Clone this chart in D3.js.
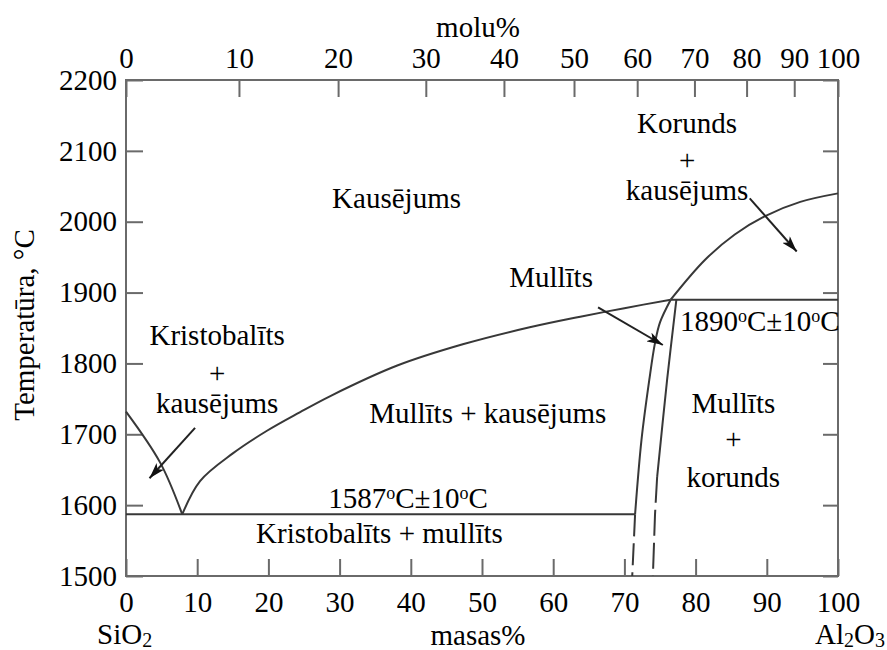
<!DOCTYPE html>
<html>
<head>
<meta charset="utf-8">
<script src="https://cdn.jsdelivr.net/npm/d3@7/dist/d3.min.js"></script>
<style>
  body { margin: 0; background: #fff; }
  svg text { font-family: "Liberation Serif", "Times New Roman", serif; fill: #000; }
</style>
</head>
<body>
<svg id="chart" width="887" height="650"></svg>
<script>
// Tick values
const tempTicks = [1500, 1600, 1700, 1800, 1900, 2000, 2100, 2200];
const massTicks = [0, 10, 20, 30, 40, 50, 60, 70, 80, 90, 100];
const moleTicks = [0, 10, 20, 30, 40, 50, 60, 70, 80, 90, 100];
const molarMass = { SiO2: 60.08, Al2O3: 101.96 };

// Phase boundaries: [mass % Al2O3, temperature °C]
const cristobaliteLiquidus = [[0, 1732], [4.8, 1660], [7.9, 1587]];
const mulliteLiquidus = [[7.9, 1587], [10.4, 1634], [15.0, 1673], [19.8, 1705], [24.4, 1731],
  [28.7, 1754], [38.1, 1797], [47.3, 1827], [56.7, 1851], [63.8, 1866], [70.0, 1878], [76.5, 1890]];
const corundumLiquidus = [[76.5, 1890], [81.3, 1946], [85.5, 1982], [90.0, 2009], [94.7, 2028], [100, 2040]];
const eutecticLine = [[0, 1587], [71.5, 1587]];
const peritecticLine = [[76.5, 1890], [100, 1890]];
const mulliteLeftSolid = [[76.5, 1890], [75.0, 1858], [74.3, 1829], [73.5, 1777], [72.4, 1692], [71.5, 1587]];
const mulliteLeftDashed = [[71.5, 1587], [71.1, 1500]];
const mulliteRightSolid = [[77.3, 1890], [76.0, 1777], [74.6, 1640]];
const mulliteRightDashed = [[74.6, 1640], [74.3, 1587], [74.0, 1500]];

// Pointer arrows: [from, to]
const arrows = [
  [[9.7, 1709], [3.3, 1638]],
  [[66.3, 1879], [75.4, 1826]],
  [[87.6, 2033], [94.2, 1958]]
];

// Region labels: text lines, anchor [mass %, °C] of first baseline, extra line offsets in px
const regionLabels = [
  { lines: ["Kausējums"], at: [38.0, 2019] },
  { lines: ["Korunds", "+", "kausējums"], at: [78.8, 2125], gap: [0, 37, 30] },
  { lines: ["Kristobalīts", "+", "kausējums"], at: [12.8, 1826], gap: [0, 38, 30] },
  { lines: ["Mullīts + kausējums"], at: [50.8, 1716] },
  { lines: ["Kristobalīts + mullīts"], at: [35.6, 1547] },
  { lines: ["Mullīts", "+", "korunds"], at: [85.3, 1730], gap: [0, 36, 38] },
  { lines: ["Mullīts"], at: [59.7, 1908] }
];

const W = 887, H = 650;
const svg = d3.select("#chart");
svg.append("rect").attr("width", W).attr("height", H).attr("fill", "#fff");

const x = d3.scaleLinear().domain([0, 100]).range([126, 838]);
const y = d3.scaleLinear().domain([1500, 2200]).range([576, 80]);

// mole % Al2O3 -> mass % Al2O3
const moleToMass = m => {
  const a = m * molarMass.Al2O3, s = (100 - m) * molarMass.SiO2;
  return 100 * a / (a + s);
};

const FS = 29;
const frameColor = "#6a6a6a";
const lineColor = "#383838";

// Axes (ticks point inward)
const gLeft = svg.append("g").attr("transform", `translate(${x(0)},0)`)
  .call(d3.axisLeft(y).tickValues(tempTicks).tickSizeInner(-17).tickSizeOuter(0).tickPadding(9).tickFormat(d3.format("d")));
const gRight = svg.append("g").attr("transform", `translate(${x(100)},0)`)
  .call(d3.axisRight(y).tickValues(tempTicks).tickSizeInner(-15).tickSizeOuter(0).tickFormat(""));
const gBottom = svg.append("g").attr("transform", `translate(0,${y(1500)})`)
  .call(d3.axisBottom(x).tickValues(massTicks).tickSizeInner(-17).tickSizeOuter(0).tickPadding(15).tickFormat(d3.format("d")));
const gTop = svg.append("g").attr("transform", `translate(0,${y(2200)})`)
  .call(d3.axisTop(x).tickValues(moleTicks.map(moleToMass)).tickSizeInner(-17).tickSizeOuter(0).tickPadding(12)
    .tickFormat((d, i) => moleTicks[i]));

[gLeft, gRight, gBottom, gTop].forEach(g => {
  g.select(".domain").remove();
  g.selectAll(".tick line").attr("stroke", frameColor).attr("stroke-width", 2);
  g.selectAll("text").attr("font-size", FS).attr("font-family", "Liberation Serif").attr("fill", "#000");
});

// Frame
svg.append("rect")
  .attr("x", x(0)).attr("y", y(2200))
  .attr("width", x(100) - x(0)).attr("height", y(1500) - y(2200))
  .attr("fill", "none").attr("stroke", frameColor).attr("stroke-width", 2);

// Phase boundary lines
const line = d3.line().x(d => x(d[0])).y(d => y(d[1]));
const smooth = d3.line().x(d => x(d[0])).y(d => y(d[1])).curve(d3.curveCatmullRom.alpha(0.5));
const drawPath = (data, gen, dash) => svg.append("path")
  .attr("d", gen(data)).attr("fill", "none")
  .attr("stroke", lineColor).attr("stroke-width", 2)
  .attr("stroke-dasharray", dash || null);

drawPath(cristobaliteLiquidus, smooth);
drawPath(mulliteLiquidus, smooth);
drawPath(corundumLiquidus, smooth);
drawPath(eutecticLine, line);
drawPath(peritecticLine, line);
drawPath(mulliteLeftSolid, smooth);
drawPath(mulliteLeftDashed, line, "22,7");
drawPath(mulliteRightSolid, smooth);
drawPath(mulliteRightDashed, line, "26,7");

// Arrow markers
svg.append("defs").append("marker")
  .attr("id", "head").attr("markerUnits", "userSpaceOnUse")
  .attr("viewBox", "0 0 16 10").attr("refX", 16).attr("refY", 5)
  .attr("markerWidth", 16).attr("markerHeight", 10).attr("orient", "auto")
  .append("path").attr("d", "M0,0 L16,5 L0,10 L4,5 Z").attr("fill", "#111");

arrows.forEach(a => {
  svg.append("line")
    .attr("x1", x(a[0][0])).attr("y1", y(a[0][1]))
    .attr("x2", x(a[1][0])).attr("y2", y(a[1][1]))
    .attr("stroke", "#222").attr("stroke-width", 2)
    .attr("marker-end", "url(#head)");
});

// Region labels
regionLabels.forEach(r => {
  const t = svg.append("text").attr("text-anchor", "middle").attr("font-size", FS)
    .attr("x", x(r.at[0])).attr("y", y(r.at[1]));
  r.lines.forEach((s, i) => {
    t.append("tspan").attr("x", x(r.at[0])).attr("dy", i === 0 ? 0 : r.gap[i]).text(s);
  });
});

// Temperature labels with a raised small "o" as the degree mark
function tempLabel(xPos, yPos, parts, anchor) {
  const t = svg.append("text").attr("x", xPos).attr("y", yPos)
    .attr("font-size", FS).attr("text-anchor", anchor);
  let raised = false;
  parts.forEach(p => {
    if (p === "o") {
      t.append("tspan").attr("font-size", 18).attr("dy", -9).text("o");
      raised = true;
    } else {
      t.append("tspan").attr("dy", raised ? 9 : 0).text(p);
      raised = false;
    }
  });
}
tempLabel(x(39.6), y(1596), ["1587", "o", "C±10", "o", "C"], "middle");
tempLabel(x(77.8), y(1846), ["1890", "o", "C±10", "o", "C"], "start");

// Axis titles
svg.append("text").attr("x", 478).attr("y", 37).attr("font-size", FS)
  .attr("text-anchor", "middle").text("molu%");
svg.append("text").attr("x", 478).attr("y", 645).attr("font-size", FS)
  .attr("text-anchor", "middle").text("masas%");
svg.append("text").attr("transform", "translate(34,325) rotate(-90)")
  .attr("font-size", FS).attr("text-anchor", "middle").text("Temperatūra, °C");

// Component names with subscripts
function formula(xPos, yPos, parts, anchor) {
  const t = svg.append("text").attr("x", xPos).attr("y", yPos)
    .attr("font-size", FS).attr("text-anchor", anchor);
  let sub = false;
  parts.forEach(p => {
    const isNum = /^[0-9]$/.test(p);
    t.append("tspan").attr("font-size", isNum ? 20 : FS)
      .attr("dy", isNum ? 3 : (sub ? -3 : 0)).text(p);
    sub = isNum;
  });
}
formula(97, 644, ["SiO", "2"], "start");
formula(885, 644, ["Al", "2", "O", "3"], "end");
</script>
</body>
</html>
